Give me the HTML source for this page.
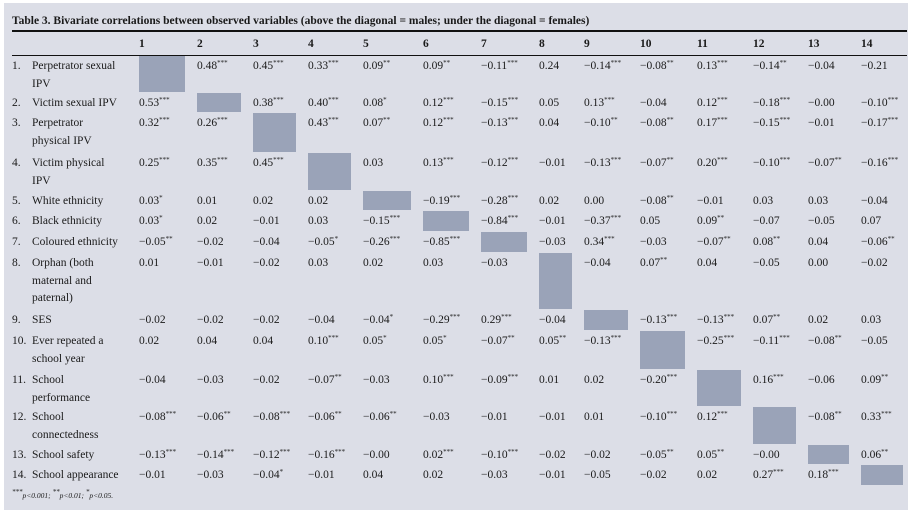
<!DOCTYPE html>
<html><head><meta charset="utf-8">
<style>
html,body{margin:0;padding:0;background:#fff;}
#panel{position:absolute;left:4px;top:3px;width:904px;height:507px;background:#dcdee7;overflow:hidden;}
#wrap{position:absolute;left:0;top:0;width:914px;height:510px;font-family:"Liberation Serif",serif;color:#1a1a1a;font-size:11.5px;}
.t{position:absolute;white-space:nowrap;line-height:13px;}
sup{font-size:7px;vertical-align:4px;line-height:0;}
.box{position:absolute;background:#9aa3b8;}
.hl{position:absolute;background:#111;}
</style></head>
<body>
<div id="wrap">
<div id="panel"></div>
<div class="t" style="left:12px;top:15px;font-weight:bold;font-size:11.5px;">Table 3. Bivariate correlations between observed variables (above the diagonal = males; under the diagonal = females)</div>
<div class="hl" style="left:12px;top:30px;width:895px;height:1.6px;"></div>
<div class="hl" style="left:12px;top:55px;width:895px;height:1px;"></div>
<div class="t" style="left:12px;top:489px;font-size:7.5px;font-style:italic;"><sup>***</sup>p&lt;0.001; <sup>**</sup>p&lt;0.01; <sup>*</sup>p&lt;0.05.</div>
</div>
<script>
const headers = ["1","2","3","4","5","6","7","8","9","10","11","12","13","14"];
const rowNums = ["1.","2.","3.","4.","5.","6.","7.","8.","9.","10.","11.","12.","13.","14."];
const rowLabels = [
 ["Perpetrator sexual","IPV"],["Victim sexual IPV"],["Perpetrator","physical IPV"],["Victim physical","IPV"],
 ["White ethnicity"],["Black ethnicity"],["Coloured ethnicity"],["Orphan (both","maternal and","paternal)"],
 ["SES"],["Ever repeated a","school year"],["School","performance"],["School","connectedness"],
 ["School safety"],["School appearance"]];
const values = [
 ["—","0.48***","0.45***","0.33***","0.09**","0.09**","−0.11***","0.24","−0.14***","−0.08**","0.13***","−0.14**","−0.04","−0.21"],
 ["0.53***","—","0.38***","0.40***","0.08*","0.12***","−0.15***","0.05","0.13***","−0.04","0.12***","−0.18***","−0.00","−0.10***"],
 ["0.32***","0.26***","—","0.43***","0.07**","0.12***","−0.13***","0.04","−0.10**","−0.08**","0.17***","−0.15***","−0.01","−0.17***"],
 ["0.25***","0.35***","0.45***","—","0.03","0.13***","−0.12***","−0.01","−0.13***","−0.07**","0.20***","−0.10***","−0.07**","−0.16***"],
 ["0.03*","0.01","0.02","0.02","—","−0.19***","−0.28***","0.02","0.00","−0.08**","−0.01","0.03","0.03","−0.04"],
 ["0.03*","0.02","−0.01","0.03","−0.15***","—","−0.84***","−0.01","−0.37***","0.05","0.09**","−0.07","−0.05","0.07"],
 ["−0.05**","−0.02","−0.04","−0.05*","−0.26***","−0.85***","—","−0.03","0.34***","−0.03","−0.07**","0.08**","0.04","−0.06**"],
 ["0.01","−0.01","−0.02","0.03","0.02","0.03","−0.03","—","−0.04","0.07**","0.04","−0.05","0.00","−0.02"],
 ["−0.02","−0.02","−0.02","−0.04","−0.04*","−0.29***","0.29***","−0.04","—","−0.13***","−0.13***","0.07**","0.02","0.03"],
 ["0.02","0.04","0.04","0.10***","0.05*","0.05*","−0.07**","0.05**","−0.13***","—","−0.25***","−0.11***","−0.08**","−0.05"],
 ["−0.04","−0.03","−0.02","−0.07**","−0.03","0.10***","−0.09***","0.01","0.02","−0.20***","—","0.16***","−0.06","0.09**"],
 ["−0.08***","−0.06**","−0.08***","−0.06**","−0.06**","−0.03","−0.01","−0.01","0.01","−0.10***","0.12***","—","−0.08**","0.33***"],
 ["−0.13***","−0.14***","−0.12***","−0.16***","−0.00","0.02***","−0.10***","−0.02","−0.02","−0.05**","0.05**","−0.00","—","0.06**"],
 ["−0.01","−0.03","−0.04*","−0.01","0.04","0.02","−0.03","−0.01","−0.05","−0.02","0.02","0.27***","0.18***","—"]];
const colX = [139,197,253,308,363,423,481,539,584,640,697,753,808,861];
const rowTop = [56,93,113,153,191,211,232,253,310,331,370,407,445,465,486];
const wrap = document.getElementById('wrap');
function txt(x,y,html){const d=document.createElement('div');d.className='t';d.style.left=x+'px';d.style.top=y+'px';d.innerHTML=html;wrap.appendChild(d);return d;}
headers.forEach((h,i)=>{
  const d=txt(colX[i],38,h);d.style.fontWeight='bold';
  
  
});
function fmt(v){const m=v.match(/^([^*]*)(\**)$/);return m[2]?m[1]+'<sup>'+m[2]+'</sup>':m[1];}
rowLabels.forEach((lines,r)=>{
  const top=rowTop[r];
  const n=txt(12,top+4,rowNums[r]);
  
  
  lines.forEach((ln,k)=>{
    const d=txt(32,top+4+k*17.5,ln);
    
    
  });
  values[r].forEach((v,c)=>{
    if(c===r){
      const b=document.createElement('div');b.className='box';
      const w=c<13?colX[c+1]-colX[c]-12:42;
      b.style.left=colX[c]+'px';b.style.top=rowTop[r]+'px';
      b.style.width=w+'px';b.style.height=(rowTop[r+1]-rowTop[r]-1)+'px';
      
      
      wrap.appendChild(b);
    } else {
      const d=txt(colX[c],top+4,fmt(v));
      
      
    }
  });
});
</script>
</body></html>
